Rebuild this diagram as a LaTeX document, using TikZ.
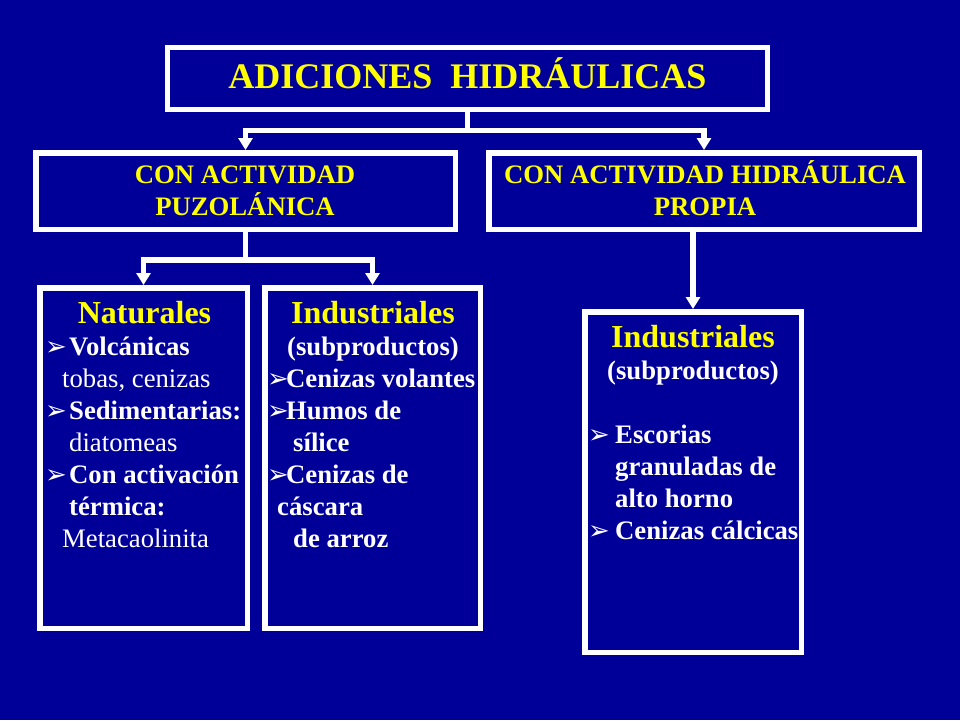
\documentclass[tikz,border=0pt]{standalone}
\usepackage{fontspec}
\setmainfont{Liberation Serif}
\newfontfamily\dingfont{DejaVu Sans}
\usetikzlibrary{arrows.meta}
\definecolor{slideblue}{RGB}{0,0,153}
\definecolor{headyellow}{RGB}{255,255,0}
\tikzset{
  box/.style={draw=white,line width=5.5pt,inner sep=0pt},
  link/.style={draw=white,line width=5.5pt},
  arr/.style={link,-{Triangle[width=14pt,length=12pt]}},
  head/.style={anchor=base,inner sep=0pt,text=headyellow,font=\bfseries\fontsize{26.7}{32}\selectfont},
  bighead/.style={head,font=\bfseries\fontsize{32}{36}\selectfont},
  item/.style={anchor=base west,inner sep=0pt,text=white,font=\fontsize{26.7}{32}\selectfont},
  bitem/.style={item,font=\bfseries\fontsize{26.7}{32}\selectfont},
  bul/.style={anchor=base west,inner sep=0pt,text=white,font=\dingfont\bfseries\fontsize{26}{26}\selectfont}
}
\begin{document}
\begin{tikzpicture}[x=1pt,y=-1pt]
\fill[slideblue] (0,0) rectangle (960,720);
% headings
\node[head,font=\bfseries\fontsize{36}{40}\selectfont] (tt) at (467.5,88) {ADICIONES\ \ HIDRÁULICAS};
\node[head] (pz1) at (245,183) {CON ACTIVIDAD};
\node[head] (pz2) at (245,215) {PUZOLÁNICA};
\node[head] (hp1) at (705,183) {CON ACTIVIDAD HIDRÁULICA};
\node[head] (hp2) at (705,215) {PROPIA};
% naturales
\node[bighead] (nt) at (144.5,323) {Naturales};
\node[bul] (nb1) at (45,355) {➢};
\node[bitem] (n1) at (69,355) {Volcánicas};
\node[item] (n2) at (62,387) {tobas, cenizas};
\node[bul] (nb2) at (45,419) {➢};
\node[bitem] (n3) at (69,419) {Sedimentarias:};
\node[item] (n4) at (69,451) {diatomeas};
\node[bul] (nb3) at (45,483) {➢};
\node[bitem] (n5) at (69,483) {Con activación};
\node[bitem] (n6) at (69,515) {térmica:};
\node[item] (n7) at (62,547) {Metacaolinita};
% industriales (puzolanicos)
\node[bighead] (it) at (373,323) {Industriales};
\node[bitem,anchor=base] (is) at (373,355) {(subproductos)};
\node[bul] (ib1) at (267,387) {➢};
\node[bitem] (i1) at (286,387) {Cenizas volantes};
\node[bul] (ib2) at (267,419) {➢};
\node[bitem] (i2) at (286,419) {Humos de};
\node[bitem] (i3) at (293,451) {sílice};
\node[bul] (ib3) at (267,483) {➢};
\node[bitem] (i4) at (286,483) {Cenizas de};
\node[bitem] (i5) at (277,515) {cáscara};
\node[bitem] (i6) at (293,547) {de arroz};
% industriales (hidraulicos)
\node[bighead] (rt) at (693,347) {Industriales};
\node[bitem,anchor=base] (rs) at (693,379) {(subproductos)};
\node[bul] (rb1) at (588,443) {➢};
\node[bitem] (r1) at (615,443) {Escorias};
\node[bitem] (r2) at (615,475) {granuladas de};
\node[bitem] (r3) at (615,507) {alto horno};
\node[bul] (rb2) at (588,539) {➢};
\node[bitem] (r4) at (615,539) {Cenizas cálcicas};
% boxes
\node[box,minimum width=600pt,minimum height=62pt] (title) at (467.5,78.5) {};
\node[box,minimum width=419.5pt,minimum height=76.5pt] (puz) at (245.5,191) {};
\node[box,minimum width=430.5pt,minimum height=76.5pt] (hid) at (704,191) {};
\node[box,minimum width=207.5pt,minimum height=340.5pt] (nat) at (143.5,458) {};
\node[box,minimum width=215.5pt,minimum height=340.5pt] (ind) at (372.5,458) {};
\node[box,minimum width=216.5pt,minimum height=340.5pt] (inh) at (693,482) {};
% connectors
\coordinate (tj) at ([yshift=-18pt]title.south);
\coordinate (pj) at ([yshift=-28pt]puz.south);
\draw[link] (title.south) -- (tj);
\draw[arr] (tj) -| (puz.north);
\draw[arr] (tj) -| (hid.north);
\draw[link] (puz.south) -- (pj);
\draw[arr] (pj) -| (nat.north);
\draw[arr] (pj) -| (ind.north);
\draw[arr] (inh.north |- hid.south) -- (inh.north);
\end{tikzpicture}
\end{document}
